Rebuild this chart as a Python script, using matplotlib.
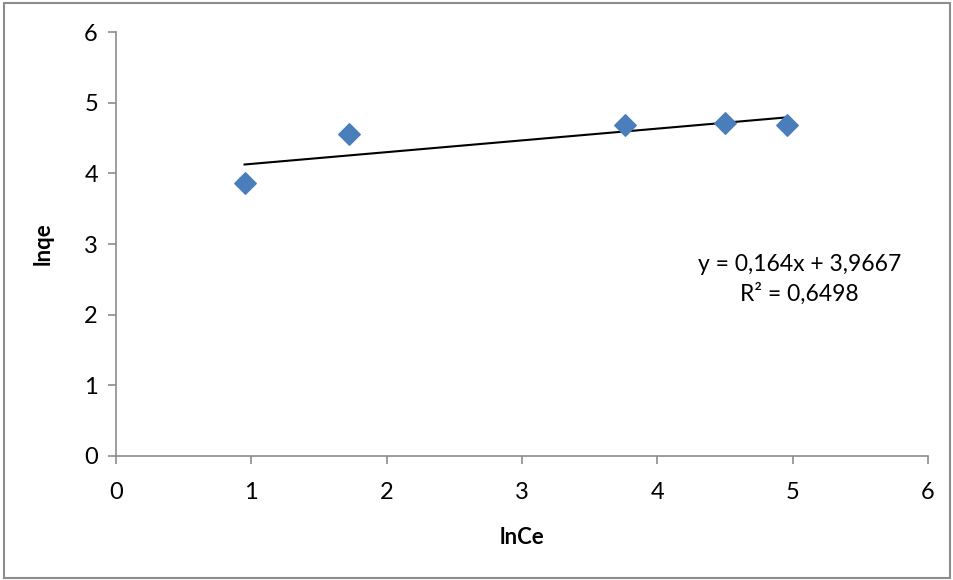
import numpy as np
import matplotlib.pyplot as plt
from matplotlib.patches import Rectangle

plt.rcParams['font.family'] = ['Lato', 'DejaVu Sans']

# data
lnCe = [0.95, 1.72, 3.76, 4.50, 4.96]
lnqe = [3.86, 4.55, 4.68, 4.71, 4.68]
x_ticks = [0, 1, 2, 3, 4, 5, 6]
y_ticks = [0, 1, 2, 3, 4, 5, 6]
eq_text = 'y = 0,164x + 3,9667\nR² = 0,6498'

fig = plt.figure(figsize=(9.54, 5.8), dpi=100)
ax = fig.add_axes([0.1216, 0.2138, 0.8511, 0.7310])

# outer chart border
fig.patches.append(Rectangle((0.004, 0.004), 0.992, 0.991, transform=fig.transFigure,
                             fill=False, edgecolor='#8c8c8c', linewidth=1.5))

ax.scatter(lnCe, lnqe, marker='D', s=120, color='#4a7ebb', zorder=3)

# linear trendline over data range
k, b = np.polyfit(lnCe, lnqe, 1)
xs = np.array([min(lnCe), max(lnCe)])
ax.plot(xs, k*xs + b, color='black', linewidth=1.5, zorder=2)

ax.text(5.05, 2.5, eq_text, ha='center', va='center', fontsize=16.5, linespacing=1.45)

ax.set_xlim(0, 6)
ax.set_ylim(0, 6)
ax.set_xticks(x_ticks)
ax.set_yticks(y_ticks)
ax.tick_params(axis='both', direction='out', length=6, width=1.2, color='#8c8c8c',
               labelsize=17, pad=7)
ax.tick_params(axis='x', pad=13)
for side in ['top', 'right']:
    ax.spines[side].set_visible(False)
for side in ['left', 'bottom']:
    ax.spines[side].set_color('#8c8c8c')
    ax.spines[side].set_linewidth(1.2)

ax.set_xlabel('lnCe', fontsize=16, fontweight='bold', labelpad=17)
ax.set_ylabel('lnqe', fontsize=16, fontweight='bold', labelpad=22)

fig.savefig('out.png', dpi=100)
